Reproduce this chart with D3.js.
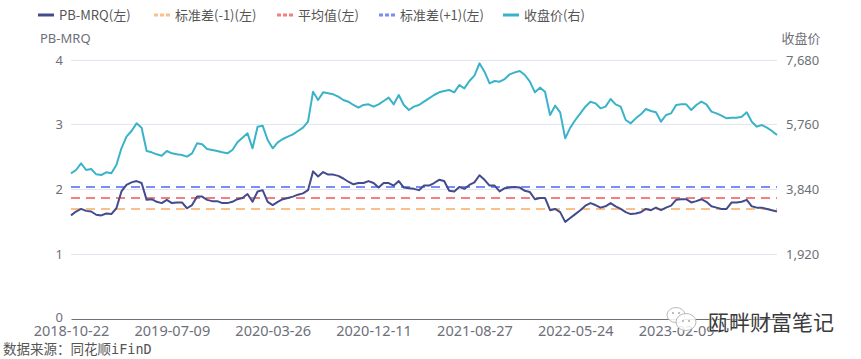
<!DOCTYPE html>
<html><head><meta charset="utf-8">
<script src="https://cdn.jsdelivr.net/npm/d3@7"></script>
<style>body{margin:0;background:#fff}svg{display:block}</style>
</head><body><svg id="c" width="861" height="359"></svg>
<script>
const xLabels = ["2018-10-22","2019-07-09","2020-03-26","2020-12-11","2021-08-27","2022-05-24","2023-02-09"];
const pbMrq = [
1.60,1.66,1.70,1.67,1.66,1.61,1.60,1.63,1.62,1.71,1.97,2.07,2.11,2.13,2.10,1.84,1.85,1.81,1.79,1.84,1.79,1.80,1.80,1.71,1.76,1.89,1.89,1.84,
1.82,1.82,1.79,1.79,1.81,1.85,1.87,1.93,1.81,1.97,1.99,1.81,1.76,1.81,1.85,1.87,1.89,1.92,1.94,1.99,2.28,2.20,2.27,2.23,2.23,2.21,2.17,2.12,
2.08,2.10,2.10,2.13,2.10,2.03,2.10,2.10,2.06,2.13,2.03,2.02,2.01,1.99,2.06,2.06,2.10,2.15,2.13,1.98,1.97,2.04,2.01,2.07,2.11,2.22,2.15,2.06,2.06,
1.97,2.02,2.03,2.04,2.03,1.98,1.96,1.85,1.87,1.87,1.68,1.70,1.65,1.50,1.56,1.62,1.68,1.75,1.79,1.76,1.72,1.74,1.79,1.74,1.70,1.65,1.62,1.63,
1.65,1.70,1.68,1.72,1.68,1.72,1.75,1.84,1.85,1.85,1.80,1.82,1.85,1.81,1.74,1.72,1.70,1.70,1.80,1.80,1.81,1.84,1.74,1.72,1.72,1.70,1.68,1.66];
const closePrice = [
4319,4418,4616,4418,4448,4290,4270,4349,4319,4566,5061,5407,5575,5802,5673,4982,4942,4883,4843,4982,4912,4883,4863,4814,4912,5209,5179,5041,
5011,4982,4942,4912,5011,5239,5377,5505,5061,5703,5733,5308,5061,5239,5337,5407,5476,5575,5673,5851,6741,6494,6721,6692,6662,6593,6494,6444,
6346,6266,6346,6365,6296,6365,6464,6563,6365,6642,6346,6197,6296,6346,6444,6543,6642,6721,6761,6790,6721,6939,6840,7057,7215,7581,7334,6988,7057,
7037,7116,7255,7314,7354,7235,7037,6721,6860,6741,6049,6326,6128,5357,5673,5901,6098,6296,6444,6395,6247,6296,6523,6365,6296,5901,5802,5950,
6069,6227,6168,6128,5851,6049,6098,6346,6365,6365,6197,6346,6444,6365,6148,6098,6029,5950,5970,5970,6000,6128,5851,5703,5752,5673,5575,5456];
const stdMinus1 = [1.70];
const meanValue = [1.87];
const stdPlus1 = [2.04];
const leftTicks = [0,1,2,3,4];
const rightTicks = [1920,3840,5760,7680];
const seriesNames = ["PB-MRQ(左)","标准差(-1)(左)","平均值(左)","标准差(+1)(左)","收盘价(右)"];

const C = {pb:"#434b8c", price:"#3ab3c9", minus:"#fdbf8a", mean:"#f57f7f", plus:"#7a8cf5"};
const FONT = "'Microsoft YaHei','Noto Sans CJK SC','Noto Sans',sans-serif";
const NUMFONT = "'Noto Sans','Noto Sans CJK SC',sans-serif";
const svg = d3.select("#c").style("font-family", FONT);
const L = 71, R = 777, T = 60, B = 319;
const n = pbMrq.length;
const x = d3.scalePoint().domain(d3.range(n)).range([L, R]);
const yL = d3.scaleLinear().domain([0,4]).range([B,T]);
const yR = d3.scaleLinear().domain([0,7680]).range([B,T]);

// grid
svg.append("g").selectAll("line").data(leftTicks.filter(d=>d>0)).join("line")
  .attr("x1",L).attr("x2",R).attr("y1",d=>yL(d)).attr("y2",d=>yL(d))
  .attr("stroke","#e3e6f2").attr("stroke-width",1).attr("shape-rendering","crispEdges");

// left axis labels
const gl = svg.append("g").attr("transform",`translate(${L},0)`)
  .call(d3.axisLeft(yL).tickValues(leftTicks).tickSize(0).tickPadding(8).tickFormat(d3.format("d")));
gl.select(".domain").remove();
gl.selectAll("text").attr("fill","#6e7079").style("font-size","13px").style("font-family",NUMFONT)
  .attr("dy", d => d===0 ? "0.2em" : "0.32em");

// right axis labels
const gr = svg.append("g").attr("transform",`translate(${R},0)`)
  .call(d3.axisRight(yR).tickValues(rightTicks).tickSize(0).tickPadding(9).tickFormat(d3.format(",")));
gr.select(".domain").remove();
gr.selectAll("text").attr("fill","#6e7079").style("font-size","13px").style("font-family",NUMFONT);

// x axis
const gx = svg.append("g").attr("transform",`translate(0,${B})`)
  .call(d3.axisBottom(x).tickValues(d3.range(0,n,20)).tickSize(0).tickPadding(8).tickFormat((d,i)=>xLabels[i]));
gx.select(".domain").attr("stroke","#6e7079").attr("stroke-width",1.2);
gx.selectAll("text").attr("fill","#6e7079").style("font-size","14.5px").style("font-family",NUMFONT)
  .attr("dy","0.62em");

// axis names
svg.append("text").attr("x",40).attr("y",43).text("PB-MRQ").attr("fill","#6e7079").style("font-size","13px").style("font-family",NUMFONT);
svg.append("text").attr("x",801).attr("y",43).attr("text-anchor","middle").text("收盘价").attr("fill","#6e7079").style("font-size","13px");

// reference dashed lines
const refs = [[stdMinus1,C.minus],[meanValue,C.mean],[stdPlus1,C.plus]];
refs.forEach(([arr,col])=>{
  svg.append("line").attr("x1",L).attr("x2",R).attr("y1",yL(arr[0])).attr("y2",yL(arr[0]))
    .attr("stroke",col).attr("stroke-width",2).attr("stroke-dasharray","9,6");
});

// lines
const linePB = d3.line().x((d,i)=>x(i)).y(d=>yL(d));
const linePx = d3.line().x((d,i)=>x(i)).y(d=>yR(d));
svg.append("path").datum(closePrice).attr("d",linePx).attr("fill","none")
  .attr("stroke",C.price).attr("stroke-width",2).attr("stroke-linejoin","round");
svg.append("path").datum(pbMrq).attr("d",linePB).attr("fill","none")
  .attr("stroke",C.pb).attr("stroke-width",2).attr("stroke-linejoin","round");

// legend
const legX = [38,154,277,379,503];
const legCol = [C.pb,C.minus,C.mean,C.plus,C.price];
const legDotted = [false,true,true,true,false];
const lg = svg.append("g");
seriesNames.forEach((name,i)=>{
  const g = lg.append("g").attr("transform",`translate(${legX[i]},15)`);
  g.append("line").attr("x1",0).attr("x2",16).attr("y1",0).attr("y2",0)
    .attr("stroke",legCol[i]).attr("stroke-width",3)
    .attr("stroke-dasharray",legDotted[i]?"4,2":null);
  g.append("text").attr("x",21).attr("y",0).attr("dy","0.36em").text(name)
    .attr("fill","#555").style("font-size","13px");
});

// source note
svg.append("text").attr("x",3).attr("y",354).text("数据来源：同花顺iFinD")
  .attr("fill","#555").style("font-size","13.5px").style("font-family","'DejaVu Sans Mono','Noto Sans CJK SC',monospace");

// watermark
const wm = svg.append("g");
wm.append("ellipse").attr("cx",676).attr("cy",315).attr("rx",9).attr("ry",7.5)
  .attr("fill","rgba(255,255,255,0.85)").attr("stroke","#bbb").attr("stroke-width",1);
wm.append("ellipse").attr("cx",686).attr("cy",322).attr("rx",10).attr("ry",8.5)
  .attr("fill","rgba(255,255,255,0.85)").attr("stroke","#bbb").attr("stroke-width",1);
[[673,313],[679,313],[683,321],[689,321]].forEach(([cx,cy])=>wm.append("circle").attr("cx",cx).attr("cy",cy).attr("r",1).attr("fill","#aaa"));
wm.append("text").attr("x",708).attr("y",330).text("瓯畔财富笔记")
  .attr("fill","#3a3a3a").attr("stroke","#fff").attr("stroke-width",0.6).attr("paint-order","stroke")
  .style("font-size","21px");
</script></body></html>
